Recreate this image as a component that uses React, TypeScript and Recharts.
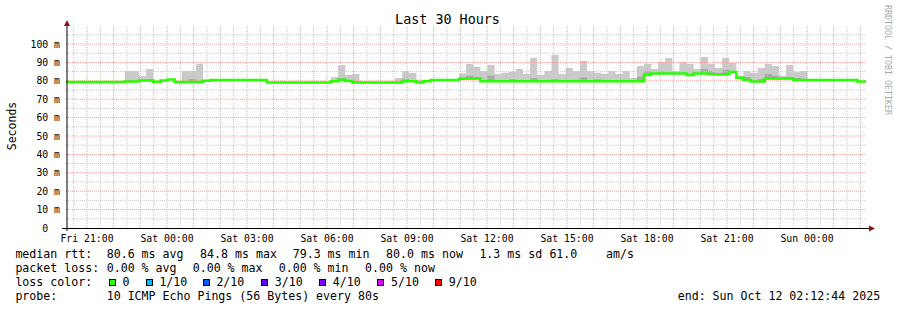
import React from 'react';
import { ComposedChart, Area, Line, XAxis, YAxis, ReferenceLine } from 'recharts';

const FONT = '"DejaVu Sans Mono", monospace';

// time axis in minutes from Fri 20:12:44 (30 hours up to Sun 02:12:44)
const SPAN = 1800;
const BIN_START = 4.28; // first consolidated step (12 x 80s = 16 min)
const BIN_MIN = 16;
const FIRST_HOUR = 47.27; // Fri 21:00

const xLabels = [
  'Fri 21:00', 'Sat 00:00', 'Sat 03:00', 'Sat 06:00', 'Sat 09:00',
  'Sat 12:00', 'Sat 15:00', 'Sat 18:00', 'Sat 21:00', 'Sun 00:00',
];
const yTicks = [0, 10, 20, 30, 40, 50, 60, 70, 80, 90, 100];

// median rtt per step, ms
const medianRtt = [
  79.3, 79.3, 79.3, 79.3, 79.3, 79.3, 79.3, 79.3, 79.6, 79.6,
  80.2, 80.2, 79.5, 80.1, 80.7, 79.3, 79.3, 79.3, 79.3, 80.0,
  80.5, 80.5, 80.5, 80.5, 80.5, 80.5, 80.5, 80.5, 79.1, 79.1,
  79.1, 79.1, 79.1, 79.1, 79.1, 79.1, 79.1, 79.8, 80.6, 79.9,
  79.1, 79.1, 79.1, 79.1, 79.1, 79.1, 79.1, 79.7, 79.7, 79.1,
  79.7, 80.4, 80.4, 80.4, 80.4, 81.1, 81.2, 81.2, 79.7, 79.7,
  79.7, 79.7, 79.7, 79.7, 79.7, 79.7, 79.7, 79.7, 79.7, 79.7,
  79.7, 79.7, 79.7, 79.7, 79.7, 79.7, 79.7, 79.7, 79.7, 79.7,
  79.7, 83.1, 84.0, 84.0, 84.0, 84.0, 84.0, 83.1, 84.0, 84.0,
  83.5, 83.5, 83.5, 84.8, 81.6, 80.4, 79.6, 79.6, 81.2, 81.2,
  81.2, 81.2, 80.4, 80.4, 80.4, 80.4, 80.4, 80.4, 80.4, 80.4,
  80.4, 79.6, 79.6,
];

// highest ping of the step (outer smoke), ms
const smokeTop = [
  null, null, null, null, null, null, null, null, 85.3, 85.3,
  82.6, 86.4, null, null, null, null, 85.3, 85.3, 89.2, null,
  null, null, null, null, null, null, null, null, null, null,
  null, null, null, null, null, null, null, 82.1, 88.6, 83.2,
  83.7, null, null, null, null, null, 81.5, 85.3, 84.2, 80.6,
  null, null, null, null, null, 83.9, 89.1, 87.7, 85.3, 88.6,
  83.7, 84.4, 84.8, 86.4, 83.7, 92.4, 83.2, 85.3, 94.2, 83.7,
  87.0, 85.3, 90.8, 85.3, 84.4, 83.7, 85.3, 83.7, 85.3, 81.5,
  88.0, 89.1, 86.4, 90.2, 92.4, 85.3, 90.2, 89.1, 86.4, 92.9,
  89.1, 87.0, 92.4, 89.7, 82.8, 85.3, 84.4, 87.0, 89.1, 88.0,
  82.8, 88.6, 84.9, 85.3, null, null, null, null, null, null,
  null, null, null,
];

// inner (darker) smoke top, ms
const smokeMid = [
  null, null, null, null, null, null, null, null, 80.5, null,
  null, 81.0, null, null, null, null, null, 81.0, null, null,
  null, null, null, null, null, null, null, null, null, null,
  null, null, null, null, null, null, null, null, 81.5, null,
  null, null, null, null, null, null, null, 80.8, null, null,
  null, null, null, null, null, null, 82.8, null, null, 82.8,
  null, null, 80.8, null, null, 81.5, null, null, 80.8, null,
  null, 80.6, 81.8, null, 80.8, null, null, null, null, null,
  82.2, 85.3, null, 84.9, null, null, null, null, null, 86.4,
  85.3, null, 85.9, null, null, 82.0, null, 81.0, 83.7, 82.8,
  null, 82.0, 81.5, null, null, null, null, null, null, null,
  null, null, null,
];

const lossColors = ['#26ff00', '#00b8ff', '#0059ff', '#5e00ff', '#7e00ff', '#dd00ff', '#ff0000'];
const lossLabels = ['0', '1/10', '2/10', '3/10', '4/10', '5/10', '9/10'];
const rttStats = ['80.6 ms avg', '84.8 ms max', '79.3 ms min', '80.0 ms now', '1.3 ms sd', '61.0', 'am/s'];
const lossStats = ['0.00 % avg', '0.00 % max', '0.00 % min', '0.00 % now'];

const rows = medianRtt.map((m, k) => ({
  t: BIN_START + k * BIN_MIN,
  median: m,
  smoke: [m - 0.3, smokeTop[k] ?? m],
  inner: [m - 0.3, smokeMid[k] ?? m],
}));
const data = [{ ...rows[0], t: 0 }, ...rows, { ...rows[rows.length - 1], t: SPAN }];

const xTicks = xLabels.map((_, i) => FIRST_HOUR + 180 * i);
const hourLines = Array.from({ length: 30 }, (_, i) => FIRST_HOUR + 60 * i);
const halfLines = Array.from({ length: 30 }, (_, i) => FIRST_HOUR - 30 + 60 * i);
const minorY = [5, 15, 25, 35, 45, 55, 65, 75, 85, 95, 105];

const XTick = (props: any) => {
  const i = Math.round((props.payload.value - FIRST_HOUR) / 180);
  return (
    <text x={props.x} y={241.7} textAnchor="middle" fontFamily={FONT} fontSize={9.8} fill="#000">
      {xLabels[i]}
    </text>
  );
};

const YTick = (props: any) => {
  const v = props.payload.value;
  return (
    <text x={v === 0 ? 48.2 : 60} y={props.y} dy={3.5} textAnchor="end" fontFamily={FONT} fontSize={9.8} fill="#000">
      {v === 0 ? '0' : `${v} m`}
    </text>
  );
};

const rttX = [107.3, 200.7, 293.3, 386.7, 480, 550, 606.7];
const lossX = [107.3, 193.3, 279.3, 365.7];
const boxX = [108.7, 145.7, 202.7, 261, 319, 377.3, 435];

const App: React.FC = () => {
  return (
    <div style={{ position: 'absolute', left: 0, top: 0, width: 897, height: 310, background: '#fff', opacity: 0.999 }}>
      <ComposedChart width={897} height={310} data={data} margin={{ top: 25.6, right: 31, bottom: 52, left: 16 }}>
        <XAxis
          dataKey="t"
          type="number"
          domain={[0, SPAN]}
          ticks={xTicks}
          interval={0}
          axisLine={false}
          tickLine={false}
          height={30}
          tick={XTick}
          allowDataOverflow
        />
        <YAxis
          type="number"
          domain={[0, 110]}
          ticks={yTicks}
          interval={0}
          axisLine={false}
          tickLine={false}
          width={50}
          tick={YTick}
          allowDataOverflow
        />
        <Area type="stepAfter" dataKey="smoke" fill="#cacaca" fillOpacity={1} stroke="none" dot={false} activeDot={false} isAnimationActive={false} />
        <Area type="stepAfter" dataKey="inner" fill="#a9a9a9" fillOpacity={1} stroke="none" dot={false} activeDot={false} isAnimationActive={false} />
        {halfLines.map(t => (
          <ReferenceLine key={'h' + t} x={t} stroke="#c8c8c8" strokeDasharray="1 1" />
        ))}
        {minorY.map(v => (
          <ReferenceLine key={'my' + v} y={v} stroke="#c8c8c8" strokeDasharray="1 1" />
        ))}
        {hourLines.map(t => (
          <ReferenceLine key={'H' + t} x={t} stroke="#f0a0a0" strokeDasharray="1 1" />
        ))}
        {yTicks.slice(1).map(v => (
          <ReferenceLine key={'My' + v} y={v} stroke="#f0a0a0" strokeDasharray="1 1" />
        ))}
        <Line type="stepAfter" dataKey="median" stroke="#26ff00" strokeWidth={2.5} dot={false} activeDot={false} isAnimationActive={false} />
      </ComposedChart>

      <svg width={897} height={310} style={{ position: 'absolute', left: 0, top: 0, pointerEvents: 'none' }} fontFamily={FONT}>
        <text x={447.5} y={24.3} fontSize={13.4} textAnchor="middle" fill="#000">Last 30 Hours</text>
        <text transform="translate(16,126) rotate(-90)" fontSize={11.5} textAnchor="middle" fill="#000">Seconds</text>
        <text transform="translate(884.5,60) rotate(90)" fontSize={8.3} textAnchor="middle" fill="#aaaaaa">RRDTOOL / TOBI OETIKER</text>

        <line x1={67} y1={26} x2={67} y2={231} stroke="#000" />
        <line x1={62} y1={228.5} x2={869} y2={228.5} stroke="#000" />
        <polygon points="64,26 70,26 67,20" fill="#8b1111" />
        <polygon points="869,225.5 869,231.5 875,228.5" fill="#8b1111" />

        <g fontSize={11.6} fill="#000">
          <text x={15.4} y={258}>median rtt:</text>
          {rttStats.map((s, i) => (
            <text key={s} x={rttX[i] - 0.6} y={258}>{s}</text>
          ))}
          <text x={15.4} y={272}>packet loss:</text>
          {lossStats.map((s, i) => (
            <text key={s} x={lossX[i] - 0.6} y={272}>{s}</text>
          ))}
          <text x={15.4} y={286}>loss color:</text>
          {lossLabels.map((s, i) => (
            <g key={s}>
              <rect x={Math.round(boxX[i]) + 0.5} y={279.5} width={6} height={6} fill={lossColors[i]} stroke="#000" strokeWidth={1} />
              <text x={boxX[i] + 13.7} y={286}>{s}</text>
            </g>
          ))}
          <text x={15.4} y={300}>probe:</text>
          <text x={106.7} y={300}>10 ICMP Echo Pings (56 Bytes) every 80s</text>
          <text x={677.7} y={300}>end: Sun Oct 12 02:12:44 2025</text>
        </g>
      </svg>
    </div>
  );
};

export default App;
